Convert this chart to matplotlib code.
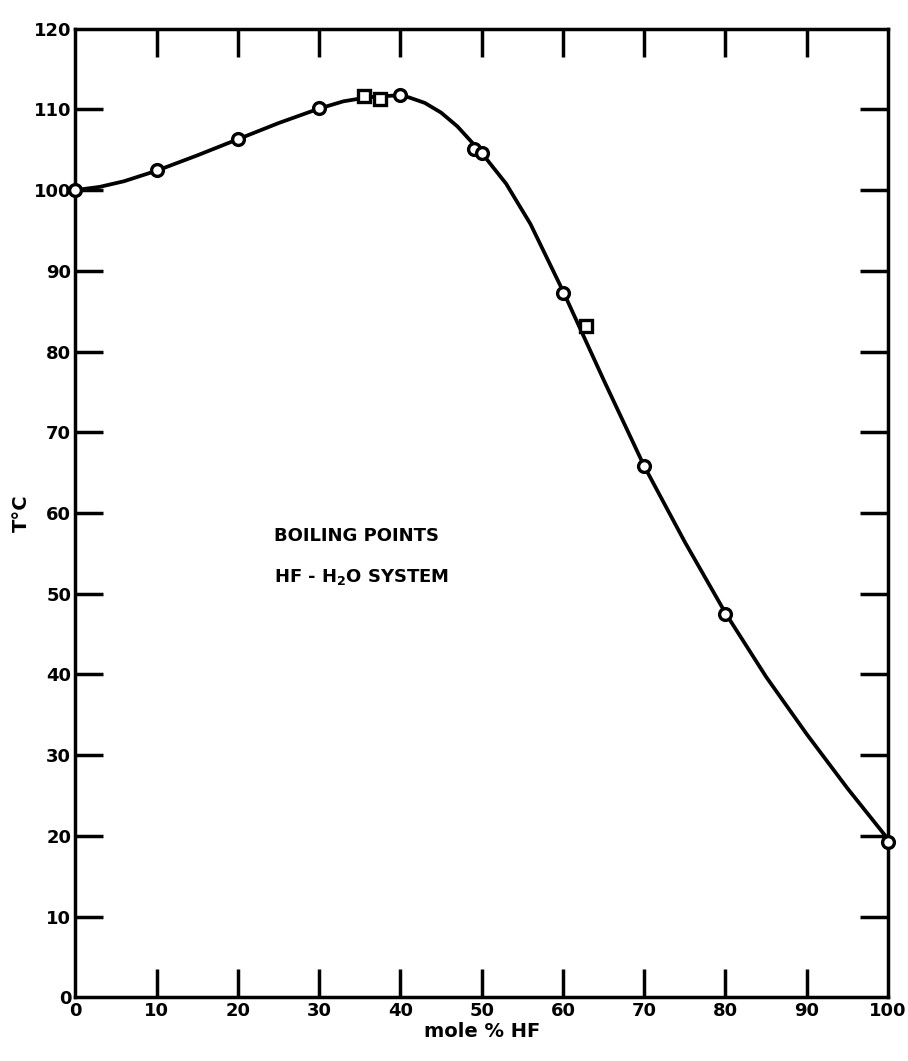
import numpy as np
import matplotlib.pyplot as plt

# measured points (mole % HF, boiling T in C)
pts_x = [0, 10, 20, 30, 40, 49, 50, 60, 70, 80, 100]
pts_y = [100, 102.5, 106.3, 110.2, 111.8, 105.1, 104.6, 87.2, 65.8, 47.5, 19.2]
sq_x = [35.5, 37.5, 62.8]
sq_y = [111.7, 111.3, 83.2]

# smoothed curve as drawn on the original
curve_x = [0, 3, 6, 10, 15, 20, 25, 30, 33, 36, 39, 41, 43, 45, 47, 50, 53, 56,
           60, 65, 70, 75, 80, 85, 90, 95, 100]
curve_y = [100, 100.4, 101.1, 102.4, 104.3, 106.3, 108.3, 110.1, 111.0, 111.5,
           111.7, 111.5, 110.8, 109.6, 107.9, 104.6, 100.8, 95.8,
           87.5, 76.5, 65.8, 56.4, 47.6, 39.7, 32.6, 25.9, 19.6]

xticks = [0, 10, 20, 30, 40, 50, 60, 70, 80, 90, 100]
yticks = [0, 10, 20, 30, 40, 50, 60, 70, 80, 90, 100, 110, 120]


def main():
    plt.rcParams['font.family'] = 'DejaVu Sans'
    plt.rcParams['font.weight'] = 'bold'
    fig = plt.figure(figsize=(9.08, 10.61), dpi=100)
    ax = fig.add_axes([0.083, 0.06, 0.895, 0.913])

    ax.plot(curve_x, curve_y, color='black', lw=2.7, zorder=2)
    ax.plot(pts_x, pts_y, 'o', ms=8.5, mfc='white', mec='black', mew=2.4, zorder=3,
            clip_on=False)
    ax.plot(sq_x, sq_y, 's', ms=8.5, mfc='white', mec='black', mew=2.4, zorder=3,
            clip_on=False)

    ax.set_xlim(0, 100)
    ax.set_ylim(0, 120)
    ax.set_xticks(xticks)
    ax.set_yticks(yticks)
    ax.tick_params(direction='in', length=20, width=2.5, top=True, right=True,
                   labelsize=13, pad=3)
    # no tick marks at the corners
    for axis in (ax.xaxis, ax.yaxis):
        ticks = axis.get_major_ticks()
        for t in (ticks[0], ticks[-1]):
            t.tick1line.set_visible(False)
            t.tick2line.set_visible(False)
    for s in ax.spines.values():
        s.set_linewidth(2.5)

    ax.set_xlabel('mole % HF', fontsize=14, fontweight='bold', labelpad=2)
    ax.set_ylabel('T°C', fontsize=14, fontweight='bold', labelpad=2)

    ax.text(24.5, 56.5, 'BOILING POINTS', fontsize=13, fontweight='bold')
    ax.text(24.5, 51.5, 'HF - H$_2$O SYSTEM', fontsize=13, fontweight='bold')

    fig.savefig('out.png', dpi=100)


if __name__ == '__main__':
    main()
